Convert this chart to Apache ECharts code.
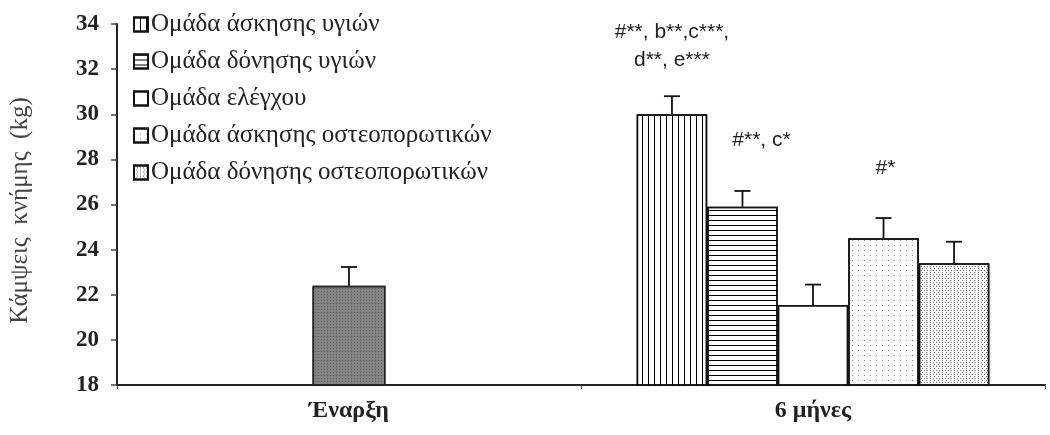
<!DOCTYPE html>
<html>
<head>
<meta charset="utf-8">
<script src="https://cdn.jsdelivr.net/npm/echarts@6/dist/echarts.min.js"></script>
<style>html,body{margin:0;padding:0;background:#fff;}#c{width:1050px;height:435px;}</style>
</head>
<body>
<div id="c"></div>
<script>
const categories = ['Έναρξη', '6 μήνες'];
const groupNames = ['Ομάδα άσκησης υγιών', 'Ομάδα δόνησης υγιών', 'Ομάδα ελέγχου', 'Ομάδα άσκησης οστεοπορωτικών', 'Ομάδα δόνησης οστεοπορωτικών'];
const baselineMean = 22.4;
const baselineError = 0.83;
const sixMonthMeans = [30.0, 25.9, 21.55, 24.5, 23.4];
const sixMonthErrors = [0.8, 0.7, 0.9, 0.9, 0.95];
const annotations = ['#**, b**,c***,\nd**, e***', '#**, c*', '', '#*', ''];
const yTicks = [18, 20, 22, 24, 26, 28, 30, 32, 34];
const yAxisTitle = 'Κάμψεις  κνήμης  (kg)';

const serif = 'Liberation Serif';
const decals = [
  {symbol: 'rect', symbolSize: 1, dashArrayX: [0.75, 4.3], dashArrayY: [1, 0], color: '#000'},
  {symbol: 'rect', symbolSize: 1, dashArrayX: [1, 0], dashArrayY: [0.75, 3.7], color: '#000'},
  {symbol: 'none'},
  {symbol: 'rect', symbolSize: 1, dashArrayX: [0.9, 4.1], dashArrayY: [0.9, 3.8], color: '#888'},
  {symbol: 'rect', symbolSize: 1, dashArrayX: [[0.9, 1.9], [0, 1.4, 0.9, 0.5]], dashArrayY: [0.9, 0.9], color: '#666'}
];
const CAT_GAP = 0.24;

const barSeries = groupNames.map((name, i) => ({
  name: name,
  type: 'bar',
  xAxisIndex: 0,
  barGap: 0,
  barCategoryGap: (CAT_GAP * 100) + '%',
  data: ['-', sixMonthMeans[i]],
  itemStyle: {
    color: '#fff',
    borderColor: '#111',
    borderWidth: 1.5,
    decal: decals[i]
  },
  z: 2
}));

const errData = [[0, -1, baselineMean, baselineError, '']];
sixMonthMeans.forEach((m, i) => errData.push([1, i, m, sixMonthErrors[i], annotations[i]]));

const annGap = [22, 37, 37, 36, 36];
const annShift = [0, 19, 0, 2, 0];

const option = {
  backgroundColor: '#fff',
  animation: false,
  legend: {
    orient: 'vertical',
    left: 128,
    top: 7,
    itemWidth: 14,
    itemHeight: 14,
    itemGap: 12,
    icon: 'rect',
    data: groupNames,
    textStyle: {fontFamily: serif, fontSize: 25, color: '#222', padding: [0, 0, 0, -2]}
  },
  grid: {left: 116, right: 5, top: 24, bottom: 50},
  xAxis: [{
    type: 'category',
    data: categories,
    axisLine: {lineStyle: {color: '#222', width: 2}},
    axisTick: {show: true, length: 4, lineStyle: {color: '#444'}},
    axisLabel: {fontFamily: serif, fontWeight: 'bold', fontSize: 24, color: '#222', margin: 14}
  }, {
    type: 'category',
    data: categories,
    show: false
  }],
  yAxis: {
    type: 'value',
    min: yTicks[0],
    max: yTicks[yTicks.length - 1],
    interval: 2,
    name: yAxisTitle,
    nameLocation: 'middle',
    nameGap: 84,
    nameTextStyle: {fontFamily: serif, fontSize: 25, color: '#444', padding: [0, 12, 0, 0]},
    axisLine: {show: true, lineStyle: {color: '#222', width: 2}},
    axisTick: {show: true, length: 6, lineStyle: {color: '#444', width: 1.5}},
    splitLine: {show: false},
    axisLabel: {fontFamily: serif, fontWeight: 'bold', fontSize: 23, color: '#222', margin: 18}
  },
  series: barSeries.concat([{
    name: 'baseline',
    type: 'bar',
    xAxisIndex: 1,
    barWidth: 73,
    data: [baselineMean, '-'],
    itemStyle: {
      color: '#838383',
      borderColor: '#222',
      borderWidth: 1.5,
      decal: {symbol: 'rect', symbolSize: 1, dashArrayX: [0.8, 1.4], dashArrayY: [0.8, 1.4], color: 'rgba(50,50,50,0.35)'}
    },
    z: 2
  }, {
    name: 'errors',
    type: 'custom',
    xAxisIndex: 0,
    data: errData,
    z: 5,
    renderItem: function (params, api) {
      const cat = api.value(0), s = api.value(1), v = api.value(2), e = api.value(3);
      const ann = errData[params.dataIndex][4];
      const band = api.size([1, 0])[0];
      const bw = band * (1 - CAT_GAP) / 5;
      const base = api.coord([cat, v]);
      let x = base[0];
      if (s >= 0) x = x + (s - 2) * bw;
      const y0 = base[1];
      const y1 = api.coord([cat, v + e])[1];
      const children = [
        {type: 'line', shape: {x1: x, y1: y0, x2: x, y2: y1}, style: {stroke: '#111', lineWidth: 1.8}},
        {type: 'line', shape: {x1: x - 8, y1: y1, x2: x + 8, y2: y1}, style: {stroke: '#111', lineWidth: 1.8}}
      ];
      if (ann) {
        children.push({
          type: 'text',
          style: {
            x: x + annShift[s], y: y1 - annGap[s],
            text: ann,
            align: 'center', verticalAlign: 'bottom',
            fontFamily: 'Liberation Sans', fontSize: 21, lineHeight: 28, fill: '#222'
          }
        });
      }
      return {type: 'group', children: children};
    }
  }])
};

const chart = echarts.init(document.getElementById('c'), null, {renderer: 'canvas'});
chart.setOption(option);
</script>
</body>
</html>
